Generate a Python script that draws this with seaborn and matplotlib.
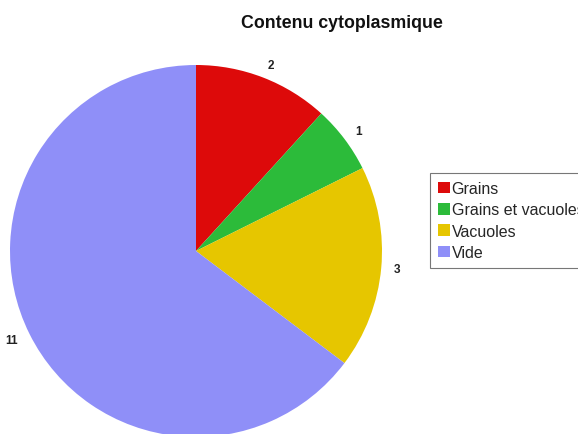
import matplotlib
matplotlib.use("Agg")
import matplotlib.pyplot as plt
import seaborn as sns

# data
categories = ['Grains', 'Grains et vacuoles', 'Vacuoles', 'Vide']
counts = [2, 1, 3, 11]
colors = ['#dd0a0a', '#2cbb3a', '#e6c600', '#8f8ff8']

sns.set_theme(style='white')
plt.rcParams['font.family'] = ['Liberation Sans', 'DejaVu Sans']

fig = plt.figure(figsize=(5.78, 4.35), dpi=100)
# square axes box so the pie fills it (pie spans x 10..382 px, y 66..438 px)
ax = fig.add_axes([10 / 578, -3 / 435, 372 / 578, 372 / 435])

wedges, texts = ax.pie(counts, labels=[str(c) for c in counts],
                       colors=sns.color_palette(colors), startangle=90,
                       counterclock=False, labeldistance=1.07,
                       wedgeprops={'linewidth': 0},
                       textprops={'fontsize': 8.5, 'fontweight': 'bold',
                                  'color': '#222222'})
ax.set_xlim(-1, 1)
ax.set_ylim(-1, 1)
ax.set_aspect('equal')
ax.axis('off')

fig.text(342 / 578, 1 - 24 / 435, 'Contenu cytoplasmique', ha='center',
         va='center', fontsize=12.8, fontweight='bold', color='#111111')

leg = fig.legend(wedges, categories, loc='upper left',
                 bbox_to_anchor=(430 / 578, 1 - 174 / 435),
                 fontsize=11.5, frameon=True, fancybox=False,
                 handlelength=0.75, handleheight=0.75, handletextpad=0.1,
                 labelspacing=0.4, borderpad=0.5, borderaxespad=0)
leg.get_frame().set_edgecolor('#555555')
leg.get_frame().set_linewidth(0.8)

fig.savefig('out.png', dpi=100)
